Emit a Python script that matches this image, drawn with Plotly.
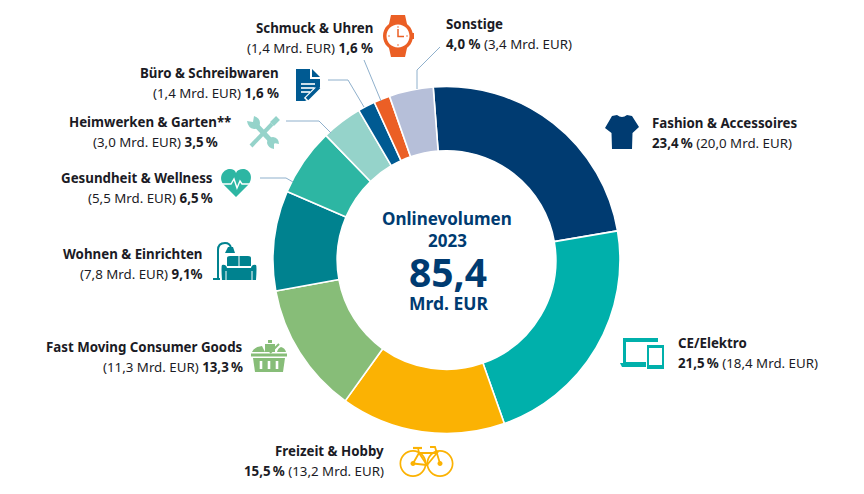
import plotly.graph_objects as go

categories = ["Fashion & Accessoires", "CE/Elektro", "Freizeit & Hobby", "Fast Moving Consumer Goods",
              "Wohnen & Einrichten", "Gesundheit & Wellness", "Heimwerken & Garten**",
              "Büro & Schreibwaren", "Schmuck & Uhren", "Sonstige"]
# shares as drawn in the picture (read from the slice boundaries)
shares = [23.5, 22.25, 15.3, 12.2, 9.3, 6.3, 3.8, 1.6, 1.5, 4.1]
colors = ["#003B71", "#00B0AB", "#FBB203", "#87BD78", "#00828F", "#2DB6A3", "#95D3CA", "#005A92", "#EB5F25", "#B6BFD9"]

W, H = 864, 494
FONT = "Noto Sans"
TXT = "#1b1b25"
NAVY = "#003B71"
LEADER = "#8FB0CC"
TS = "\u2009"

# text lines: html, x, y, anchor
labels = [
    ("<b>Schmuck &amp; Uhren</b>", 372, 28, "right"), ("(1,4 Mrd. EUR) <b>1,6 %</b>", 372, 48, "right"),
    ("<b>Sonstige</b>", 446, 24, "left"), ("<b>4,0 %</b> (3,4 Mrd. EUR)", 446, 44, "left"),
    ("<b>Büro &amp; Schreibwaren</b>", 278, 73, "right"), ("(1,4 Mrd. EUR) <b>1,6 %</b>", 278, 93, "right"),
    ("<b>Heimwerken &amp; Garten**</b>", 230, 122, "right"), (f"(3,0 Mrd. EUR) <b>3,5{TS}%</b>", 217, 142, "right"),
    ("<b>Gesundheit &amp; Wellness</b>", 212, 178, "right"), (f"(5,5 Mrd. EUR) <b>6,5{TS}%</b>", 212, 198, "right"),
    ("<b>Wohnen &amp; Einrichten</b>", 202, 254, "right"), ("(7,8 Mrd. EUR) <b>9,1%</b>", 202, 274, "right"),
    ("<b>Fast Moving Consumer Goods</b>", 242, 347, "right"), (f"(11,3 Mrd. EUR) <b>13,3{TS}%</b>", 242, 367, "right"),
    ("<b>Fashion &amp; Accessoires</b>", 652, 123, "left"), (f"<b>23,4{TS}%</b> (20,0 Mrd. EUR)", 652, 143, "left"),
    ("<b>CE/Elektro</b>", 678, 343, "left"), (f"<b>21,5{TS}%</b> (18,4 Mrd. EUR)", 678, 363, "left"),
    ("<b>Freizeit &amp; Hobby</b>", 383, 451, "right"), (f"<b>15,5{TS}%</b> (13,2 Mrd. EUR)", 383, 471, "right"),
]
center = [("Onlinevolumen", 447, 218, 17), ("2023", 447, 240, 17), ("85,4", 448, 271, 39), ("Mrd. EUR", 449, 303, 17.5)]
leaders = [
    [(440, 47), (417, 70), (417, 89)],
    [(364, 60), (381, 101)],
    [(328, 80), (348, 80), (364, 107)],
    [(286, 121), (319, 121), (331, 133)],
    [(260, 178), (286, 178), (293, 182)],
]

fig = go.Figure()
fig.add_trace(go.Scatter(x=[0, W], y=[0, H], mode="none", showlegend=False, hoverinfo="skip"))
fig.add_trace(go.Pie(labels=categories, values=shares, sort=False, direction="clockwise", rotation=-4.4,
                     hole=0.63, marker=dict(colors=colors, line=dict(color="white", width=1.6)),
                     textinfo="none", showlegend=False,
                     domain=dict(x=[273 / W, 620 / W], y=[1 - 433.5 / H, 1 - 86.5 / H])))

shapes = []
def path(d, fill=None, line=None, width=0):
    s = dict(type="path", xref="x", yref="y", path=d, layer="above", fillrule="evenodd",
             line=dict(color=line or "rgba(0,0,0,0)", width=width))
    if fill:
        s["fillcolor"] = fill
    shapes.append(s)

def poly(pts, close=True):
    return "M" + " L".join(f"{x},{y}" for x, y in pts) + (" Z" if close else "")

def circ(cx, cy, r):
    k = 0.5523 * r
    return (f"M{cx+r},{cy} C{cx+r},{cy+k} {cx+k},{cy+r} {cx},{cy+r} C{cx-k},{cy+r} {cx-r},{cy+k} {cx-r},{cy} "
            f"C{cx-r},{cy-k} {cx-k},{cy-r} {cx},{cy-r} C{cx+k},{cy-r} {cx+r},{cy-k} {cx+r},{cy} Z")

for l in leaders:
    path(poly(l, False), line=LEADER, width=1)

# watch
O = "#EB5F25"
path(poly([(391, 15), (405, 15), (407, 24), (389, 24)]), O)
path(poly([(389, 48), (407, 48), (405, 57), (391, 57)]), O)
path(circ(398, 36, 15) + " " + circ(398, 36, 11.5), O)
path(poly([(412, 33), (414, 33), (414, 39), (412, 39)]), O)
path(poly([(398, 29), (398, 36.5), (404, 36.5)], False), line=O, width=1.5)
for x, y in [(398, 27), (398, 45), (389, 36), (407, 36)]:
    path(circ(x, y, 0.8), O)

# document
B = "#005A92"
path(poly([(296, 69), (310, 69), (310, 79), (320, 79), (320, 87), (307, 100), (305, 101), (296, 101)]), B)
path(poly([(312, 69), (320, 77), (312, 77)]), B)
for y, x2 in [(84, 315), (88, 314), (92, 310)]:
    path(poly([(301, y), (x2, y)], False), line="white", width=1.6)
path(poly([(306, 100), (317, 89)], False), line="white", width=6)
path(poly([(307, 99), (319, 87)], False), line=B, width=3.5)

# tools
T = "#95D3CA"
path(poly([(251, 146), (272, 124)], False), line=T, width=4)
path(poly([(272, 124), (278, 118)], False), line=T, width=5.5)
path(poly([(256, 125), (274, 144)], False), line=T, width=5)
path("M247,121 Q248,128 254,129 Q260,129 260,123 Q260,118 254,116 L253,122 Z", T)
path("M279,144 Q279,138 273,137 Q267,137 267,143 Q268,148 274,149 L274,143 Z", T)

# heart
G = "#2DB6A3"
path("M236,197 L223,184 C218,176 224,169 230,169 C233,169 235,170 236,173 C237,170 240,169 243,169 C249,169 254,176 249,184 Z", G)
path(poly([(221, 184), (231, 184), (234, 179), (237, 188), (240, 181), (242, 184), (252, 184)], False), line="white", width=1.4)

# sofa + lamp
S = "#00828F"
path("M213,279 L220,279 M218,279 L218,250 Q218,243 225,243 Q230,243 231,248", line=S, width=2)
path(poly([(225, 253), (228, 247), (233, 247), (235, 253)]), S)
path("M227,258 Q227,256 230,256 L248,256 Q251,256 251,258 L251,266 L227,266 Z", S)
path("M222,265 Q226,264 227,268 L251,268 Q252,264 256,265 Q257,266 256,280 L222,280 Q221,266 222,265 Z", S)
path(poly([(239, 256), (239, 268)], False), line="white", width=1)
path(poly([(226, 271), (226, 280)], False), line="white", width=1)
path(poly([(252, 271), (252, 280)], False), line="white", width=1)

# basket
K = "#87BD78"
path(poly([(251, 353.5), (287, 353.5), (287, 356.5), (251, 356.5)]), K)
path(poly([(253, 358), (285, 358), (283, 372), (255, 372)]), K)
path("M252,352 Q254,347 262,346 L265,352 Z", K)
path(poly([(268, 340), (272, 340), (272, 343), (268, 343)]), K)
path(poly([(265, 344), (275, 344), (275, 352), (265, 352)]), K)
path(poly([(279, 344), (270, 353)], False), line=K, width=2)
path("M277,352 Q278,348 281,347 Q285,348 286,352 Z", K)
for x in [261, 269, 277]:
    path(poly([(x, 361), (x, 369)], False), line="white", width=2.6)

# bicycle
Y = "#FBB203"
path(circ(413, 463.5, 13.5) + " " + circ(413, 463.5, 11.8), Y)
path(circ(440, 463.5, 13.5) + " " + circ(440, 463.5, 11.8), Y)
path(poly([(413, 463.5), (419, 453), (437, 453), (427, 465), (419, 453)], False), line=Y, width=1.8)
path(poly([(413, 463.5), (427, 465)], False), line=Y, width=1.8)
path(poly([(440, 463.5), (435, 447), (430, 447)], False), line=Y, width=1.8)
path(poly([(413, 448), (422, 448)], False), line=Y, width=2.2)
path(poly([(419, 453), (418, 448)], False), line=Y, width=1.6)
path(circ(413, 463.5, 2.5), Y)
path(circ(440, 463.5, 2.5), Y)

# devices
C = "#00B0AB"
path(poly([(623, 338), (658, 338), (658, 342), (626, 342), (626, 362), (646, 362), (646, 366), (623, 366)]), C)
path(poly([(620, 363), (646, 363), (646, 367), (622, 367)]), C)
path(poly([(647, 345), (664, 345), (664, 369), (647, 369)]) + " " + poly([(649, 348), (662, 348), (662, 365), (649, 365)]), C)

# shirt
path("M617,115 Q622,119 627,115 L632,116 L639,127 L632.5,133 L632,149 L612,149 L611.5,133 L605,128 L612,116 Z", NAVY)

ann = []
for t, x, y, a in labels:
    ann.append(dict(text=t, x=x + (2.5 if a == "right" else -2), y=y, xref="x", yref="y", xanchor=a, yanchor="middle",
                    showarrow=False, font=dict(family=FONT, size=13.3, color=TXT)))
for t, x, y, s in center:
    ann.append(dict(text=f"<b>{t}</b>", x=x, y=y, xref="x", yref="y", xanchor="center", yanchor="middle",
                    showarrow=False, font=dict(family=FONT, size=s, color=NAVY)))

fig.update_layout(width=W, height=H, margin=dict(l=0, r=0, t=0, b=0), paper_bgcolor="white", plot_bgcolor="rgba(0,0,0,0)",
                  xaxis=dict(range=[0, W], visible=False, fixedrange=True),
                  yaxis=dict(range=[H, 0], visible=False, fixedrange=True),
                  shapes=shapes, annotations=ann, showlegend=False)
fig.write_html("out.html", config=dict(displayModeBar=False), post_script="document.body.style.margin='0';")
